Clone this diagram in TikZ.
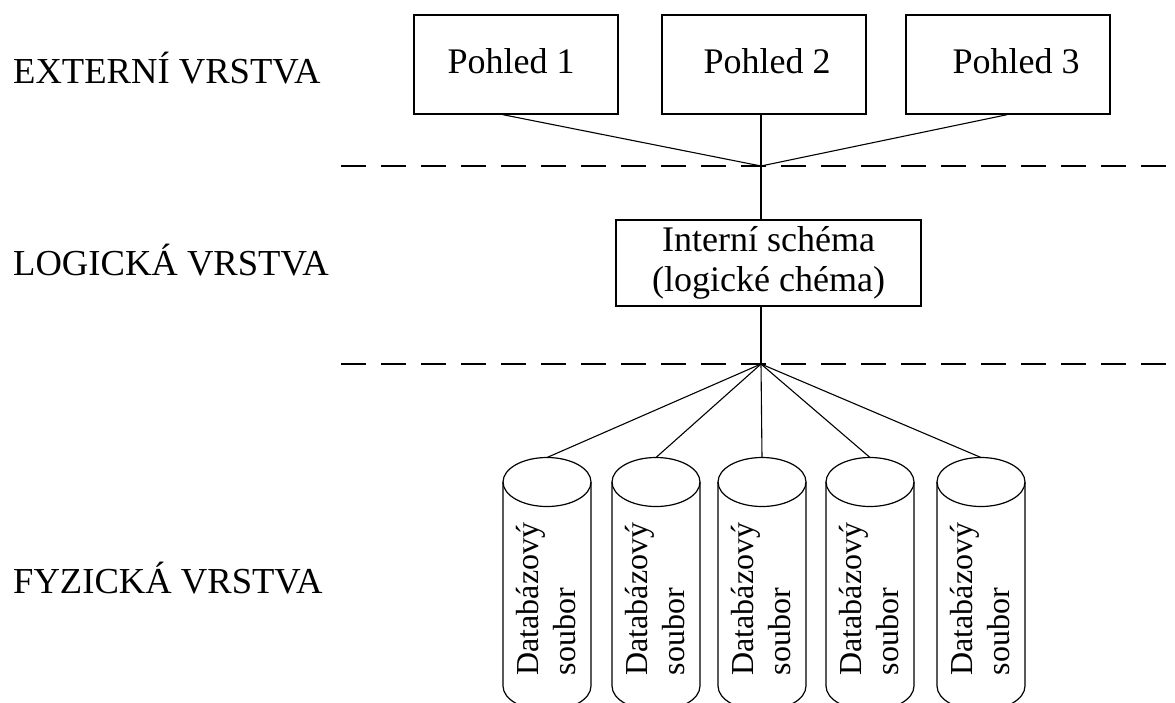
\documentclass[tikz,border=0pt]{standalone}
\usepackage{fontspec}
\setmainfont{Liberation Serif}
\begin{document}
\begin{tikzpicture}[x=1pt,y=-1pt,
  view/.style={draw,line width=1.4pt,minimum width=204pt,minimum height=99pt,inner sep=0pt},
  viewtext/.style={anchor=base,font=\fontsize{36}{40}\selectfont,inner sep=0pt},
  schema/.style={draw,line width=1.4pt,minimum width=305pt,minimum height=86pt,inner sep=0pt,
    align=center,font=\fontsize{36}{40}\selectfont},
  layer/.style={anchor=base west,font=\fontsize{36.6}{40}\selectfont,inner sep=0pt},
  divider/.style={line width=1.5pt,dash pattern=on 25pt off 15pt},
  link/.style={line width=1.1pt},
  cyl/.style={line width=1.2pt},
  cyltext/.style={rotate=90,align=left,font=\fontsize{32}{37}\selectfont,inner sep=0pt}]
\useasboundingbox (0,0) rectangle (1175,702);

% layer captions
\node[layer] (lext) at (13,83) {EXTERNÍ VRSTVA};
\node[layer] (llog) at (13,275) {LOGICKÁ VRSTVA};
\node[layer] (lfyz) at (13,593) {FYZICKÁ VRSTVA};

% layer separators
\draw[divider] (341,166) -- (1175,166);
\draw[divider] (341,364) -- (1175,364);

% external views
\node[view] (p1) at (516,64.5) {};
\node[view] (p2) at (764,64.5) {};
\node[view] (p3) at (1008,64.5) {};
\node[viewtext] (p1t) at (511,73) {Pohled 1};
\node[viewtext] (p2t) at (767,73) {Pohled 2};
\node[viewtext] (p3t) at (1016,73) {Pohled 3};

% junction points on the separators
\coordinate (j1) at (761,166);
\coordinate (j2) at (761,364);

% internal schema
\node[schema] (int) at (768.5,263) {Interní schéma\\(logické chéma)};

\draw[link] ([xshift=-13pt]p1.south) -- (j1);
\draw[link] ([xshift=-3pt]p2.south) -- (j1);
\draw[link] ([xshift=-1pt]p3.south) -- (j1);
\draw[link] (j1) -- ([xshift=-7.5pt]int.north);
\draw[link] ([xshift=-7.5pt]int.south) -- (j2);

% database files
\foreach \i/\cx in {1/547,2/656,3/762,4/870,5/981}{
  \draw[cyl] (\cx,482) ellipse[x radius=44pt,y radius=24.5pt];
  \draw[cyl] (\cx-44,482) -- (\cx-44,686)
    arc[start angle=180,end angle=360,x radius=44pt,y radius=24.5pt] -- (\cx+44,482);
  \coordinate (t\i) at (\cx,457.5);
  \node[cyltext] (d\i) at (\cx-1,599) {Databázový\\soubor};
  \draw[link] (j2) -- (t\i);
}
\end{tikzpicture}
\end{document}
